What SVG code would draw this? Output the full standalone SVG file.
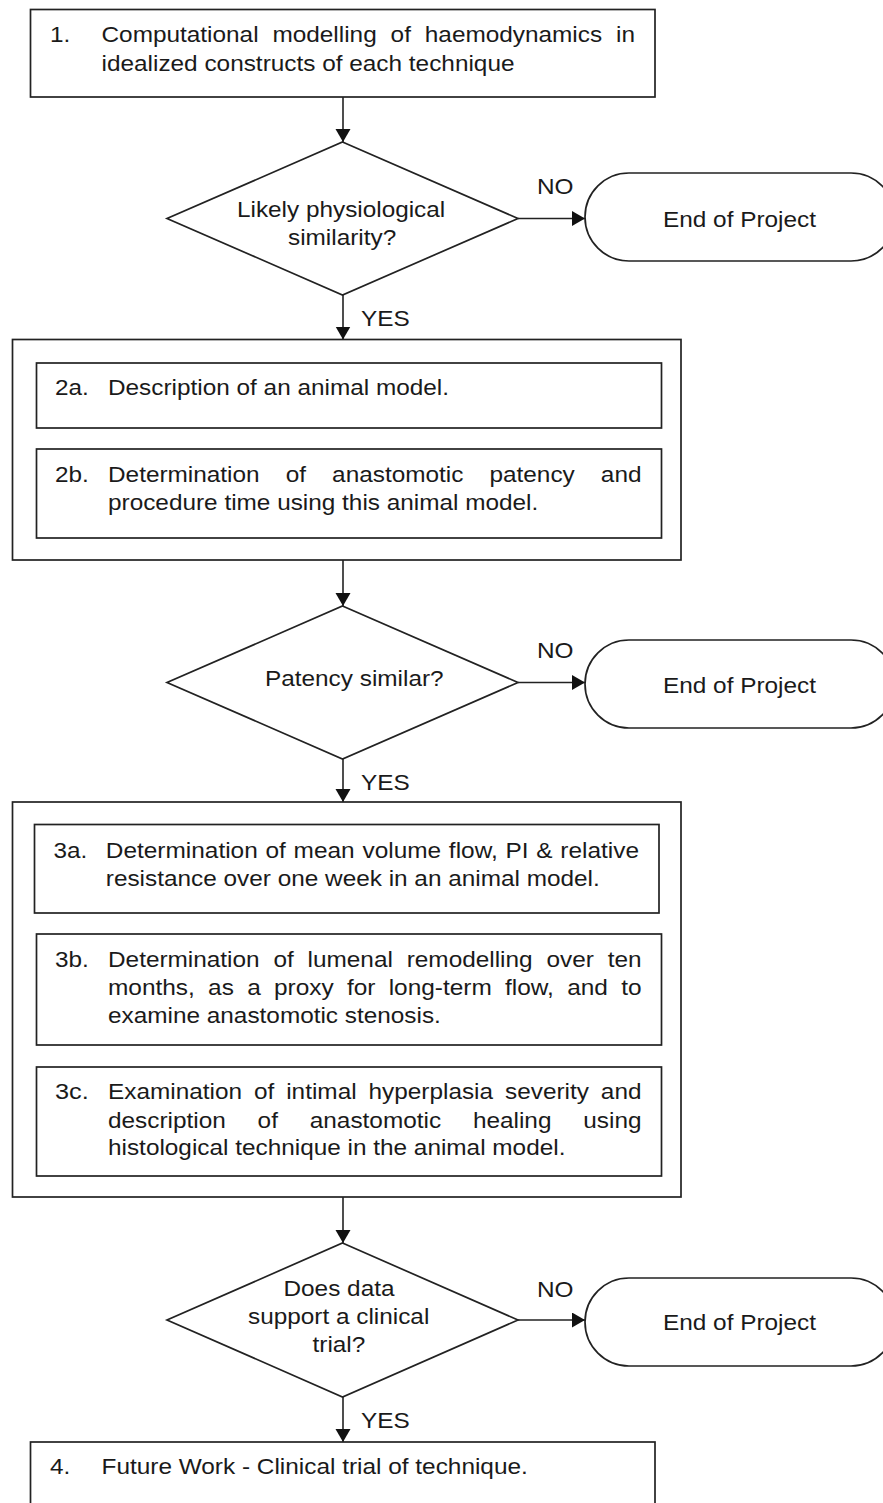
<svg xmlns="http://www.w3.org/2000/svg" width="883" height="1503" viewBox="0 0 883 1503">
<style>
.b{fill:#fff;stroke:#222;stroke-width:1.7}
.c{fill:none;stroke:#222;stroke-width:1.6}
text{font-family:"Liberation Sans",Arial,sans-serif;font-size:22px;fill:#1a1a1a}
</style>
<defs>
<marker id="ah" markerUnits="userSpaceOnUse" markerWidth="14" markerHeight="16" refX="13" refY="7.5" orient="auto">
<path d="M0,0 L13,7.5 L0,15 z" fill="#111"/>
</marker>
</defs>
<rect width="883" height="1503" fill="#fff"/>

<g id="connectors">
<line class="c" x1="343" y1="97" x2="343" y2="142" marker-end="url(#ah)"/>
<line class="c" x1="343" y1="295" x2="343" y2="339.5" marker-end="url(#ah)"/>
<line class="c" x1="518" y1="218.5" x2="585" y2="218.5" marker-end="url(#ah)"/>
<line class="c" x1="343" y1="560" x2="343" y2="606" marker-end="url(#ah)"/>
<line class="c" x1="343" y1="759" x2="343" y2="802" marker-end="url(#ah)"/>
<line class="c" x1="518" y1="682.5" x2="585" y2="682.5" marker-end="url(#ah)"/>
<line class="c" x1="343" y1="1197" x2="343" y2="1243" marker-end="url(#ah)"/>
<line class="c" x1="343" y1="1397" x2="343" y2="1442" marker-end="url(#ah)"/>
<line class="c" x1="518" y1="1320" x2="585" y2="1320" marker-end="url(#ah)"/>
<text x="537" y="194" textLength="36.5" lengthAdjust="spacingAndGlyphs">NO</text>
<text x="361" y="326" textLength="48.7" lengthAdjust="spacingAndGlyphs">YES</text>
<text x="537" y="658" textLength="36.5" lengthAdjust="spacingAndGlyphs">NO</text>
<text x="361" y="790" textLength="48.7" lengthAdjust="spacingAndGlyphs">YES</text>
<text x="537" y="1297" textLength="36.5" lengthAdjust="spacingAndGlyphs">NO</text>
<text x="361" y="1428" textLength="48.7" lengthAdjust="spacingAndGlyphs">YES</text>
</g>

<g id="step1">
<rect class="b" x="30.5" y="9.5" width="624.5" height="87.5"/>
<text x="50" y="42" textLength="20.3" lengthAdjust="spacingAndGlyphs">1.</text>
<text x="101.5" y="42" word-spacing="6.45" textLength="533.5" lengthAdjust="spacingAndGlyphs">Computational modelling of haemodynamics in</text>
<text x="101.5" y="71" textLength="413" lengthAdjust="spacingAndGlyphs">idealized constructs of each technique</text>
</g>

<g id="decision1">
<polygon class="b" points="342.5,142 518,218.5 342.5,295 167,218.5"/>
<text x="237" y="217" textLength="208.2" lengthAdjust="spacingAndGlyphs">Likely physiological</text>
<text x="288" y="245" textLength="108.2" lengthAdjust="spacingAndGlyphs">similarity?</text>
</g>

<g id="end1">
<rect class="b" x="585" y="173" width="310" height="88" rx="44" ry="44"/>
<text x="663" y="227" textLength="153" lengthAdjust="spacingAndGlyphs">End of Project</text>
</g>

<g id="step2">
<rect class="b" x="12.5" y="339.5" width="668.5" height="220.5"/>
<g id="step2a">
<rect class="b" x="36.5" y="363" width="625" height="65"/>
<text x="55" y="395" textLength="33.8" lengthAdjust="spacingAndGlyphs">2a.</text>
<text x="108" y="395" textLength="341" lengthAdjust="spacingAndGlyphs">Description of an animal model.</text>
</g>
<g id="step2b">
<rect class="b" x="36.5" y="449" width="625" height="89"/>
<text x="55" y="481.5" textLength="33.8" lengthAdjust="spacingAndGlyphs">2b.</text>
<text x="108" y="481.5" word-spacing="17.45" textLength="533.5" lengthAdjust="spacingAndGlyphs">Determination of anastomotic patency and</text>
<text x="108" y="510" textLength="430.3" lengthAdjust="spacingAndGlyphs">procedure time using this animal model.</text>
</g>
</g>

<g id="decision2">
<polygon class="b" points="342.5,606 518,682.5 342.5,759 167,682.5"/>
<text x="265" y="685.5" textLength="178.6" lengthAdjust="spacingAndGlyphs">Patency similar?</text>
</g>

<g id="end2">
<rect class="b" x="585" y="640" width="310" height="88" rx="44" ry="44"/>
<text x="663" y="693" textLength="153" lengthAdjust="spacingAndGlyphs">End of Project</text>
</g>

<g id="step3">
<rect class="b" x="12.5" y="802" width="668.5" height="395"/>
<g id="step3a">
<rect class="b" x="34.5" y="824.5" width="624.5" height="88.5"/>
<text x="53.5" y="858" textLength="33.8" lengthAdjust="spacingAndGlyphs">3a.</text>
<text x="105.8" y="858" word-spacing="0.87" textLength="533.2" lengthAdjust="spacingAndGlyphs">Determination of mean volume flow, PI &amp; relative</text>
<text x="105.8" y="886" textLength="494" lengthAdjust="spacingAndGlyphs">resistance over one week in an animal model.</text>
</g>
<g id="step3b">
<rect class="b" x="36.5" y="934" width="625" height="111"/>
<text x="55" y="967" textLength="33.8" lengthAdjust="spacingAndGlyphs">3b.</text>
<text x="108" y="967" word-spacing="6.38" textLength="533.5" lengthAdjust="spacingAndGlyphs">Determination of lumenal remodelling over ten</text>
<text x="108" y="995" word-spacing="5.82" textLength="533.5" lengthAdjust="spacingAndGlyphs">months, as a proxy for long-term flow, and to</text>
<text x="108" y="1023" textLength="332.9" lengthAdjust="spacingAndGlyphs">examine anastomotic stenosis.</text>
</g>
<g id="step3c">
<rect class="b" x="36.5" y="1067" width="625" height="109"/>
<text x="55" y="1099" textLength="33.8" lengthAdjust="spacingAndGlyphs">3c.</text>
<text x="108" y="1099" word-spacing="4.68" textLength="533.5" lengthAdjust="spacingAndGlyphs">Examination of intimal hyperplasia severity and</text>
<text x="108" y="1128" word-spacing="22.65" textLength="533.5" lengthAdjust="spacingAndGlyphs">description of anastomotic healing using</text>
<text x="108" y="1155" textLength="457.4" lengthAdjust="spacingAndGlyphs">histological technique in the animal model.</text>
</g>
</g>

<g id="decision3">
<polygon class="b" points="342.5,1243 518,1320 342.5,1397 167,1320"/>
<text x="283.5" y="1296" textLength="111" lengthAdjust="spacingAndGlyphs">Does data</text>
<text x="248" y="1324" textLength="181.3" lengthAdjust="spacingAndGlyphs">support a clinical</text>
<text x="312.5" y="1352" textLength="52.8" lengthAdjust="spacingAndGlyphs">trial?</text>
</g>

<g id="end3">
<rect class="b" x="585" y="1278" width="310" height="88" rx="44" ry="44"/>
<text x="663" y="1330" textLength="153" lengthAdjust="spacingAndGlyphs">End of Project</text>
</g>

<g id="step4">
<rect class="b" x="30.5" y="1442" width="624.5" height="80"/>
<text x="50" y="1474" textLength="20.3" lengthAdjust="spacingAndGlyphs">4.</text>
<text x="101.5" y="1474" textLength="426.3" lengthAdjust="spacingAndGlyphs">Future Work - Clinical trial of technique.</text>
</g>
</svg>
